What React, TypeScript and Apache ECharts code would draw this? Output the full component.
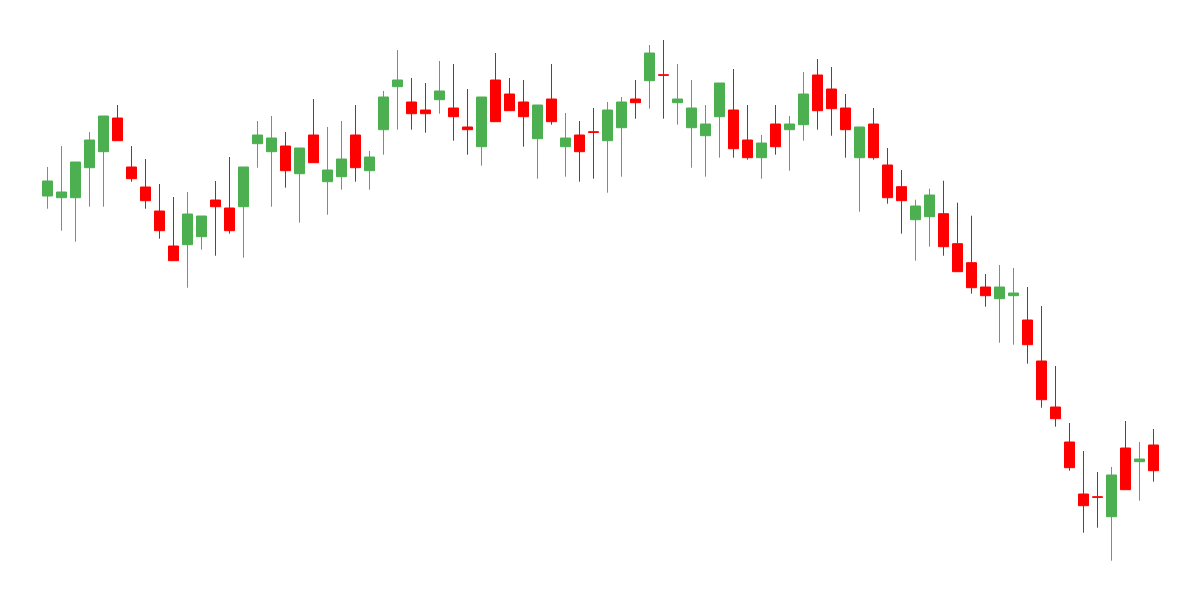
import React, { useEffect, useRef } from "react";
import * as echarts from "echarts";

// Each candle: [open, close, lowest, highest]
const candles: number[][] = [
  [404, 419, 391.3, 433],
  [402.3, 408, 369.3, 454],
  [402.3, 438, 358.3, 438],
  [432.3, 460, 393.3, 468],
  [448.3, 484, 393.3, 484],
  [482, 459.3, 459.3, 495],
  [433, 421.3, 418.3, 454],
  [413, 399.3, 391.3, 441],
  [389, 369.3, 361.3, 416],
  [354, 339.3, 339.3, 403],
  [355.3, 386, 312.3, 408],
  [363.3, 384, 350.3, 384],
  [400, 393.3, 344.3, 419],
  [392, 369.3, 366.3, 443],
  [393.3, 433, 342.3, 433],
  [456.3, 465, 432.3, 479],
  [448.3, 462, 393.3, 484],
  [454, 429.3, 412.3, 468],
  [426.3, 452, 377.3, 452],
  [465, 437.3, 437.3, 501],
  [418.3, 430, 385.3, 473],
  [423.3, 441, 410.3, 479],
  [465, 432.3, 418.3, 495],
  [429.3, 443, 410.3, 449],
  [470.3, 503, 445.3, 509],
  [513.3, 520, 470.3, 550],
  [498, 486.3, 470.3, 522],
  [490, 486.3, 467.3, 517],
  [500.3, 509, 486.3, 539],
  [492, 483.3, 459.3, 536],
  [473, 470.3, 445.3, 511],
  [453.3, 503, 434.3, 503],
  [520, 478.3, 478.3, 547],
  [506, 489.3, 489.3, 522],
  [498, 483.3, 453.3, 520],
  [461.3, 495, 421.3, 495],
  [501, 478.3, 475.3, 536],
  [453.3, 462, 423.3, 487],
  [465, 448.3, 418.3, 479],
  [468.3, 467.5, 421.3, 492],
  [459.3, 490, 407.3, 498],
  [472.3, 498, 423.3, 503],
  [501, 497.3, 481.3, 520],
  [519.3, 547, 491.3, 555],
  [525.3, 524.6, 481.3, 560],
  [497.3, 501, 475.3, 536],
  [472.3, 492, 432.3, 520],
  [464.3, 476, 423.3, 495],
  [483.3, 517, 442.3, 517],
  [490, 451.3, 442.3, 531],
  [460, 442.3, 440.3, 495],
  [442.3, 457, 421.3, 465],
  [476, 453.3, 445.3, 495],
  [470.3, 476, 429.3, 484],
  [475.3, 506, 459.3, 528],
  [525, 489.3, 470.3, 541],
  [511, 491.3, 464.3, 533],
  [492, 470.3, 442.3, 506],
  [442.3, 473, 388.3, 473],
  [476, 442.3, 440.3, 492],
  [435, 402.3, 396.3, 452],
  [413.3, 399.3, 366.3, 430],
  [380.3, 394, 339.3, 400.3],
  [383.3, 405, 353.3, 411.3],
  [386.3, 353.3, 344.3, 419.3],
  [356.3, 328.3, 328.3, 397.3],
  [337.3, 312.3, 306.3, 384.3],
  [313, 304.3, 293.3, 326],
  [301.3, 313, 257.3, 335],
  [304.3, 307, 255.3, 332],
  [280, 255.3, 236.3, 313],
  [239, 200.3, 192.3, 294],
  [193, 181.3, 173.3, 234],
  [158, 132.3, 129.3, 177],
  [106, 94.3, 67.3, 149],
  [103.3, 102.6, 72.3, 128],
  [83.3, 125, 39.3, 133],
  [152, 110.3, 110.3, 179],
  [138.3, 141, 99.3, 158],
  [155, 129.3, 118.3, 171],
];

const categories: string[] = candles.map((_, i) => String(i + 1));

const UP = "#4caf50";
const DOWN = "#ff0000";

export default function App() {
  const ref = useRef<HTMLDivElement>(null);
  useEffect(() => {
    if (!ref.current) return;
    const chart = echarts.init(ref.current, null, { renderer: "svg" });
    chart.setOption({
      animation: false,
      backgroundColor: "#ffffff",
      grid: { left: 40.5, right: 39.5, top: 0, bottom: 0 },
      xAxis: {
        type: "category",
        data: categories,
        show: false,
        boundaryGap: true,
      },
      yAxis: {
        type: "value",
        min: 0,
        max: 600,
        show: false,
        splitLine: { show: false },
      },
      series: [
        {
          type: "candlestick",
          data: candles,
          barWidth: 10,
          itemStyle: {
            color: UP,
            color0: DOWN,
            borderColor: UP,
            borderColor0: DOWN,
            borderWidth: 1,
          },
        },
      ],
    });
    return () => chart.dispose();
  }, []);
  return (
    <div
      ref={ref}
      style={{ position: "fixed", left: 0, top: 0, width: 1200, height: 600 }}
    />
  );
}
